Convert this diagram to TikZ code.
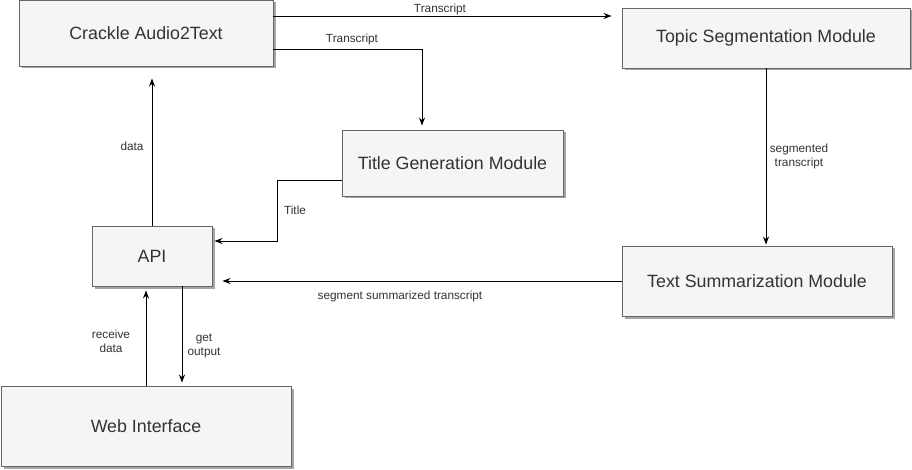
\documentclass[tikz,border=0pt]{standalone}
\usepackage{fontspec}
\setmainfont{Liberation Sans}
\usetikzlibrary{shadows,arrows.meta}
\definecolor{boxfill}{HTML}{F5F5F5}
\definecolor{boxline}{HTML}{666666}
\definecolor{txt}{HTML}{333333}
\begin{document}
\begin{tikzpicture}[x=1pt,y=-1pt,
  box/.style={draw=boxline,fill=boxfill,line width=0.9pt,text=txt,
    font=\fontsize{17.8}{21}\selectfont,inner sep=0pt,
    drop shadow={shadow xshift=2.5pt,shadow yshift=-2.5pt,fill=black!35,opacity=1}},
  arr/.style={-{Stealth[length=8pt,width=6pt]},line width=0.9pt,black},
  lbl/.style={font=\fontsize{11.8}{14}\selectfont,text=txt,inner sep=0pt,align=center}]
\useasboundingbox[fill=white] (0,0) rectangle (912,470);
\node[box,minimum width=254pt,minimum height=66pt] (crackle) at (146,33) {Crackle Audio2Text};
\node[box,minimum width=288pt,minimum height=60pt] (topic) at (766,38) {Topic Segmentation Module};
\node[box,minimum width=221pt,minimum height=66pt] (titlegen) at (452.5,163) {Title Generation Module};
\node[box,minimum width=120pt,minimum height=60pt] (api) at (152,256) {API};
\node[box,minimum width=270pt,minimum height=70pt] (textsum) at (757,281) {Text Summarization Module};
\node[box,minimum width=290pt,minimum height=80pt] (web) at (146,426) {Web Interface};
\coordinate (y16) at (0,16);
\coordinate (y49) at (0,49);
\coordinate (x422) at (422,0);
\coordinate (y180) at (0,180);
\coordinate (tbend) at (277,180);
\coordinate (tbend2) at (277,241);
\coordinate (x146) at (146,0);
\coordinate (x182) at (182,0);
% connectors
\draw[arr,shorten >=10pt] (crackle.east |- y16) -- (topic.west |- y16);
\draw[arr,shorten >=4pt] (crackle.east |- y49) -| (x422 |- titlegen.north);
\draw[arr,shorten >=12pt] (api.north) -- (api.north |- crackle.south);
\draw[arr,shorten >=2pt] (titlegen.west |- y180) -- (tbend) -- (tbend2) -- (api.east |- tbend2);
\draw[arr,shorten >=10pt] (textsum.west) -- (api.east |- textsum.west);
\draw[arr,shorten >=1pt] (topic.south) -- (topic.south |- textsum.north);
\draw[arr,shorten >=4pt] (web.north -| x146) -- (api.south -| x146);
\draw[arr,shorten >=3pt] (api.south -| x182) -- (web.north -| x182);
% labels
\node[lbl] (l1) at (440,9) {Transcript};
\node[lbl] (l2) at (352,39) {Transcript};
\node[lbl] (l3) at (132,146) {data};
\node[lbl] (l4) at (295,210) {Title};
\node[lbl] (l5) at (400,296) {segment summarized transcript};
\node[lbl] (l6) at (799,156) {segmented\\transcript};
\node[lbl] (l7) at (111,341) {receive\\data};
\node[lbl] (l8) at (204,346) {get\\output};
\end{tikzpicture}
\end{document}
